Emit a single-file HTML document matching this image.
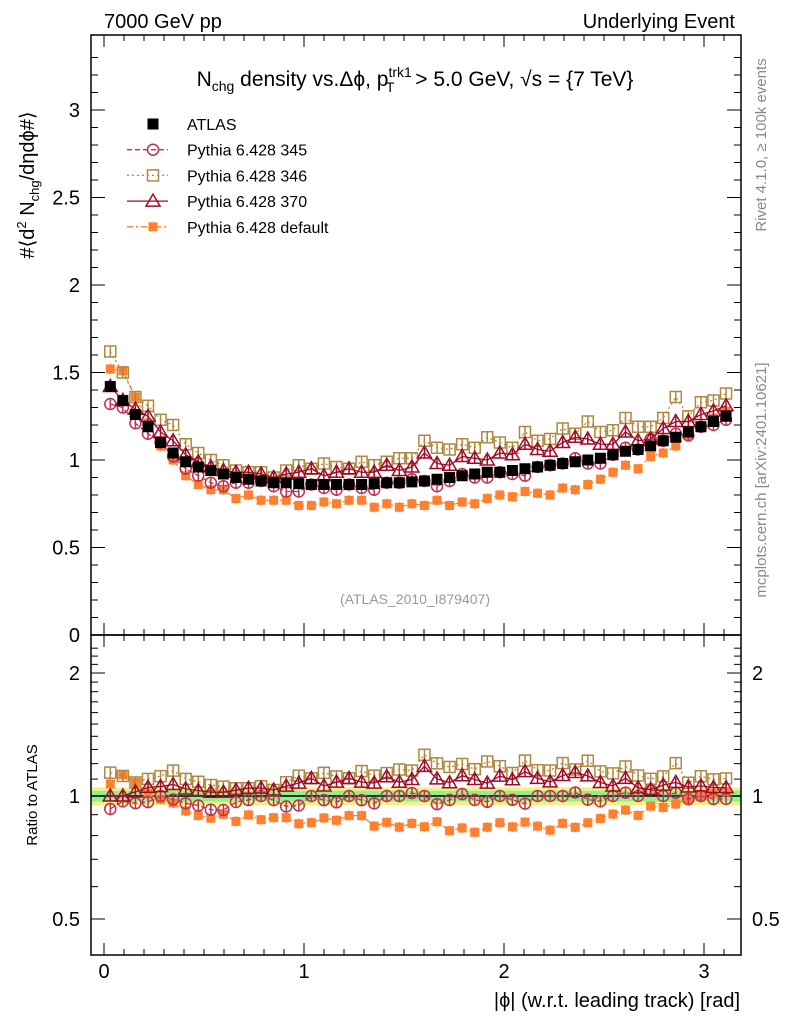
<!DOCTYPE html>
<html><head><meta charset="utf-8">
<style>
body{margin:0;background:#fff;}
svg{display:block;font-family:"Liberation Sans","DejaVu Sans",sans-serif;}
</style></head>
<body>
<svg id="c" width="786" height="1024" viewBox="0 0 786 1024" xmlns="http://www.w3.org/2000/svg">
<text x="104" y="28" font-size="20">7000 GeV pp</text>
<text x="735" y="28" font-size="20" text-anchor="end">Underlying Event</text>
<text x="415" y="86" font-size="21" text-anchor="middle">N<tspan font-size="14" dy="5">chg</tspan><tspan dy="-5"> density vs.Δϕ, p</tspan><tspan font-size="14" dy="-9">trk1</tspan><tspan font-size="14" dx="-26" dy="15">T</tspan><tspan dx="15" dy="-6"> &gt; 5.0 GeV, √s = {7 TeV}</tspan></text>
<text x="415" y="604" font-size="14" fill="#999" text-anchor="middle">(ATLAS_2010_I879407)</text>
<text transform="translate(766,145) rotate(-90)" font-size="15" fill="#888" text-anchor="middle">Rivet 4.1.0, ≥ 100k events</text>
<text transform="translate(766,480) rotate(-90)" font-size="15" fill="#888" text-anchor="middle">mcplots.cern.ch [arXiv:2401.10621]</text>
<text transform="translate(34,185) rotate(-90)" font-size="20" text-anchor="middle">#⟨d<tspan font-size="13" dy="-8">2</tspan><tspan dy="8"> N</tspan><tspan font-size="13" dy="5">chg</tspan><tspan dy="-5">/dηdϕ#⟩</tspan></text>
<text transform="translate(37,795) rotate(-90)" font-size="15" text-anchor="middle">Ratio to ATLAS</text>
<text x="740" y="1007" font-size="20" text-anchor="end">|ϕ| (w.r.t. leading track) [rad]</text>
<g id="g"></g>
</svg>
<script>
const atlas=[1.42,1.34,1.26,1.19,1.10,1.04,0.99,0.96,0.94,0.92,0.90,0.89,0.88,0.87,0.87,0.865,0.86,0.86,0.86,0.86,0.86,0.865,0.87,0.87,0.875,0.88,0.89,0.90,0.91,0.92,0.93,0.93,0.94,0.95,0.96,0.97,0.98,0.99,1.00,1.01,1.03,1.05,1.06,1.08,1.11,1.13,1.16,1.19,1.22,1.25];
const py345=[1.32,1.30,1.21,1.15,1.10,1.02,0.95,0.91,0.87,0.85,0.87,0.87,0.88,0.85,0.82,0.82,0.86,0.84,0.83,0.86,0.84,0.83,0.87,0.87,0.89,0.88,0.85,0.88,0.92,0.90,0.90,0.93,0.92,0.91,0.96,0.97,0.98,1.01,0.98,0.98,1.03,1.07,1.06,1.12,1.11,1.15,1.14,1.19,1.20,1.23];
const py346=[1.62,1.50,1.36,1.31,1.23,1.20,1.09,1.04,1.00,0.97,0.94,0.93,0.93,0.90,0.94,0.97,0.95,0.98,0.96,0.95,0.99,0.97,0.99,1.01,1.01,1.11,1.07,1.06,1.09,1.07,1.13,1.10,1.07,1.16,1.11,1.12,1.18,1.15,1.22,1.16,1.17,1.24,1.19,1.19,1.24,1.36,1.25,1.33,1.34,1.38];
const py370=[1.42,1.34,1.29,1.25,1.16,1.11,1.03,0.99,0.96,0.94,0.93,0.93,0.92,0.90,0.92,0.93,0.95,0.91,0.93,0.95,0.93,0.93,0.97,0.94,0.96,1.04,0.98,0.97,1.02,1.01,1.00,1.04,1.03,1.09,1.06,1.05,1.10,1.13,1.12,1.09,1.09,1.16,1.11,1.12,1.18,1.22,1.22,1.26,1.28,1.31];
const pydef=[1.52,1.51,1.36,1.21,1.08,1.00,0.91,0.86,0.83,0.83,0.78,0.80,0.77,0.77,0.77,0.74,0.74,0.76,0.75,0.77,0.77,0.73,0.75,0.73,0.75,0.74,0.77,0.74,0.76,0.75,0.78,0.80,0.79,0.82,0.81,0.80,0.84,0.83,0.86,0.89,0.93,0.97,0.95,1.02,1.04,1.08,1.14,1.19,1.24,1.28];
const xTicks=[0,1,2,3];
const yTicks=[0,0.5,1,1.5,2,2.5,3];
const rTicks=[0.5,1,2];

const NS="http://www.w3.org/2000/svg";
const g=document.getElementById('g');
const X0=91,X1=741,T0=35,B0=635,T1=635,B1=955;
const xs=v=>104+200*v;
const ys=v=>635-175*v;
const rs=v=>796-408.6*Math.log10(v);
function el(t,a,p){const e=document.createElementNS(NS,t);for(const k in a)e.setAttribute(k,a[k]);(p||g).appendChild(e);return e;}

const yb=el('rect',{x:X0,y:rs(1.05),width:X1-X0,height:rs(0.95)-rs(1.05),fill:'#f5f080'});


const gb=el('rect',{x:X0,y:rs(1.03),width:X1-X0,height:rs(0.97)-rs(1.03),fill:'#8ef08e'});



const f1=el('rect',{x:X0,y:T0,width:X1-X0,height:B0-T0,fill:'none',stroke:'#000','stroke-width':1.5});


const f2=el('rect',{x:X0,y:T1,width:X1-X0,height:B1-T1,fill:'none',stroke:'#000','stroke-width':1.5});



for(let v=0;v<=3.15;v+=0.1){
  const x=xs(v),maj=Math.abs(v-Math.round(v))<1e-6,L=maj?12:6;
  [[T0,1],[B0,-1],[T1,1],[B1,-1]].forEach(([y,d])=>el('line',{x1:x,x2:x,y1:y,y2:y+d*L,stroke:'#000'}));
}
xTicks.forEach(v=>{const t=el('text',{x:xs(v),y:978,'font-size':20,'text-anchor':'middle'});t.textContent=v;

});
for(let i=0;i<=33;i++){const v=i/10,y=ys(v);if(y<T0)continue;const maj=i%5==0,L=maj?14:7;
  el('line',{x1:X0,x2:X0+L,y1:y,y2:y,stroke:'#000'});el('line',{x1:X1,x2:X1-L,y1:y,y2:y,stroke:'#000'});}
yTicks.forEach(v=>{const t=el('text',{x:80,y:ys(v)+7,'font-size':20,'text-anchor':'end'});t.textContent=v;

});
for(let v=0.4;v<=2.4;v+=0.1){const y=rs(v);if(y<T1||y>B1)continue;const maj=[0.5,1,2].some(m=>Math.abs(m-v)<1e-6),L=maj?14:7;
  el('line',{x1:X0,x2:X0+L,y1:y,y2:y,stroke:'#000'});el('line',{x1:X1,x2:X1-L,y1:y,y2:y,stroke:'#000'});}
rTicks.forEach(v=>{[[80,'end'],[752,'start']].forEach(([x,a])=>{const t=el('text',{x:x,y:rs(v)+7,'font-size':20,'text-anchor':a});t.textContent=v;

});});
const one=el('line',{x1:X0,x2:X1,y1:rs(1),y2:rs(1),stroke:'#000','stroke-width':1.5});



const N=atlas.length,bw=Math.PI/N;
const cx=i=>xs((i+0.5)*bw);
function marker(type,x,y,col,p){
  if(type=='sq')return el('rect',{x:x-5.5,y:y-5.5,width:11,height:11,fill:'#000'},p);
  if(type=='fsq')return el('rect',{x:x-4.5,y:y-4.5,width:9,height:9,fill:col},p);
  if(type=='osq')return el('rect',{x:x-5.5,y:y-5.5,width:11,height:11,fill:'none',stroke:col,'stroke-width':1.5},p);
  if(type=='tri')return el('path',{d:`M${x},${y-7}L${x+7},${y+5}L${x-7},${y+5}Z`,fill:'none',stroke:col,'stroke-width':1.5},p);
  return el('circle',{cx:x,cy:y,r:5.5,fill:'none',stroke:col,'stroke-width':1.5},p);
}
const series=[
 {d:pydef,c:'#ff8030',m:'fsq',dash:'6,3,2,3',n:'default'},
 {d:py345,c:'#c03050',m:'circ',dash:'5,3',n:'345'},
 {d:py346,c:'#b08840',m:'osq',dash:'2,3',n:'346'},
 {d:py370,c:'#a00a28',m:'tri',dash:'',n:'370'}];
series.forEach(s=>{
  [['main',v=>ys(v),i=>s.d[i]],['ratio',v=>rs(v),i=>s.d[i]/atlas[i]]].forEach(([pn,sc,val])=>{
    const grp=el('g',{});
    
    
    let pts=[];
    for(let i=0;i<N;i++){const x=cx(i),y=sc(val(i));pts.push(x+','+y);
      el('line',{x1:x,x2:x,y1:y-5,y2:y+5,stroke:s.c,'stroke-width':1.5},grp);}
    el('polyline',{points:pts.join(' '),fill:'none',stroke:s.c,'stroke-width':1.3,'stroke-dasharray':s.dash},grp);
    for(let i=0;i<N;i++){const mk=marker(s.m,cx(i),sc(val(i)),s.c,grp);
      
      }
  });
});
const ag=el('g',{});


for(let i=0;i<N;i++){const mk=marker('sq',cx(i),ys(atlas[i]),'#000',ag);
  
  }
const leg=[['ATLAS','sq','#000',''],['Pythia 6.428 345','circ','#c03050','5,3'],['Pythia 6.428 346','osq','#b08840','2,3'],['Pythia 6.428 370','tri','#a00a28',''],['Pythia 6.428 default','fsq','#ff8030','6,3,2,3']];
leg.forEach((l,k)=>{const y=124+k*25.7;const lg=el('g',{});
  
  
  if(k>0)el('line',{x1:127,x2:168,y1:y,y2:y,stroke:l[2],'stroke-width':1.3,'stroke-dasharray':l[3]},lg);
  marker(l[1],153,y,l[2],lg);
  const t=el('text',{x:187,y:y+6,'font-size':16},lg);t.textContent=l[0];});
</script>
</body></html>
